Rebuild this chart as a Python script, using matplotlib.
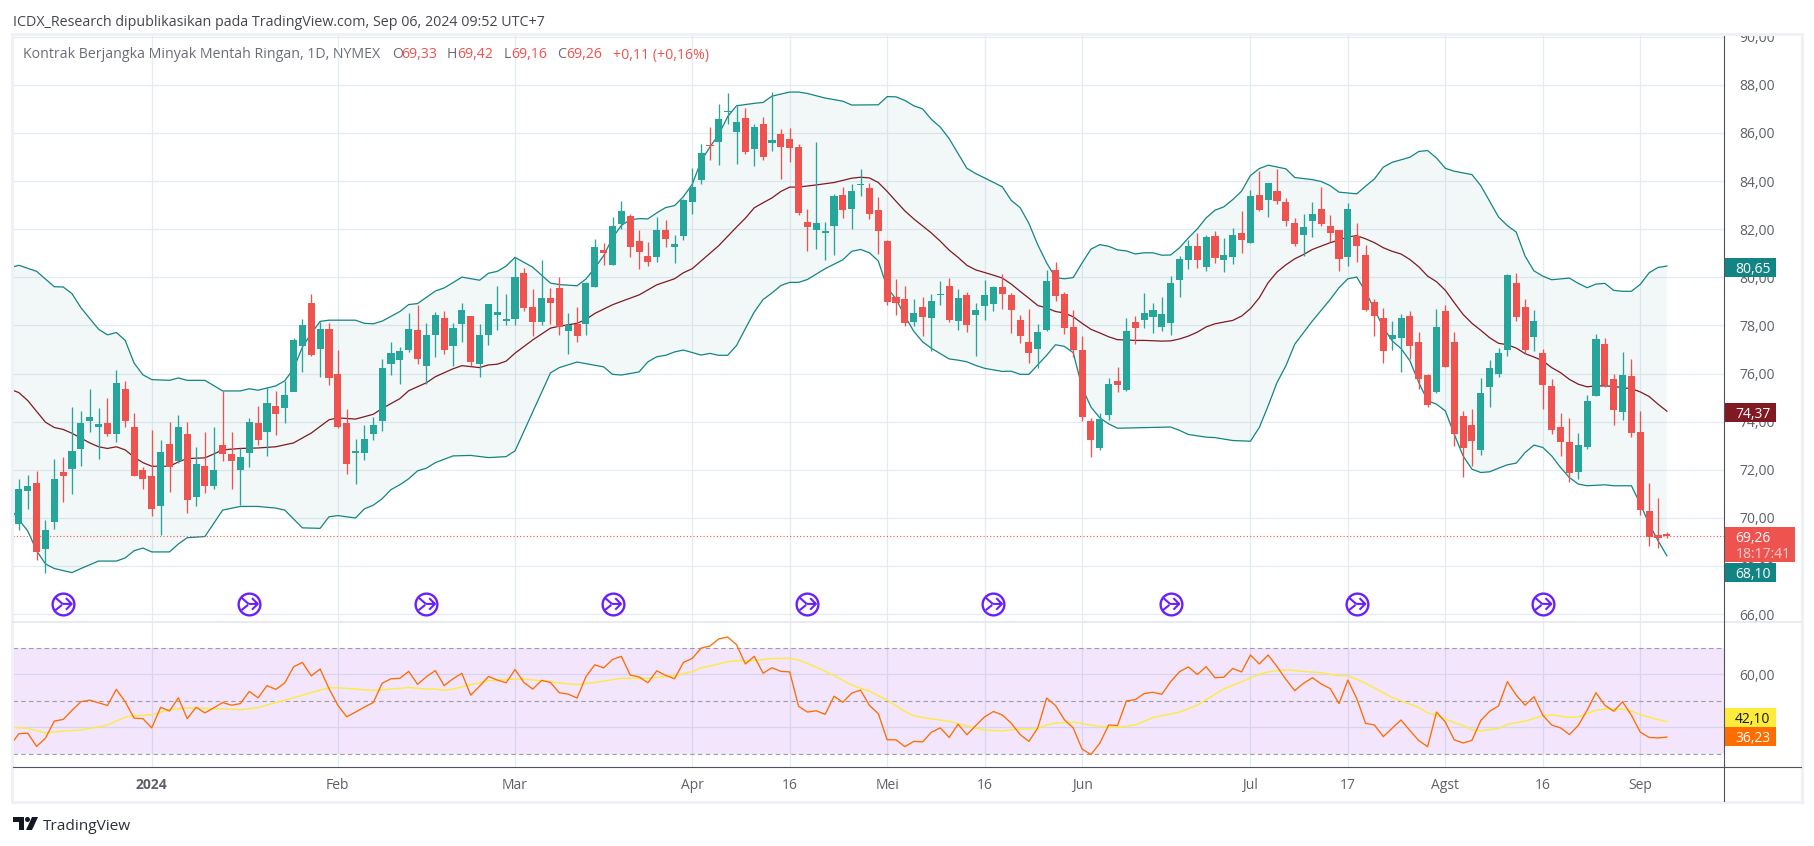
import numpy as np
import matplotlib
matplotlib.use("Agg")
import matplotlib.pyplot as plt
from matplotlib.patches import Rectangle, Circle, Polygon
from matplotlib.path import Path
from matplotlib.ticker import FuncFormatter

plt.rcParams["font.family"] = ["Open Sans", "DejaVu Sans"]

# Daily candles, one row per bar: open, high, low, close
opens = [69.75, 71.11, 71.44, 68.72, 69.84, 71.90, 72.02, 72.88, 74.02, 73.77,
         73.93, 73.51, 75.36, 73.80, 72.00, 71.74, 70.50, 73.07, 72.36, 73.51,
         70.87, 72.18, 71.31, 73.02, 72.64, 71.98, 72.69, 73.93, 73.56, 74.67,
         74.56, 75.25, 77.13, 78.92, 77.02, 77.84, 75.98, 73.93, 72.72, 72.72,
         73.50, 74.05, 76.38, 76.56, 77.00, 77.83, 76.30, 77.60, 78.33, 77.13,
         78.05, 78.40, 76.40, 77.60, 78.45, 78.17, 78.27, 80.17, 78.75, 78.13,
         79.13, 79.57, 77.75, 78.08, 78.05, 79.60, 81.15, 80.53, 82.21, 82.53,
         81.50, 80.87, 80.86, 81.96, 81.27, 81.72, 83.13, 84.04, 85.48, 85.64,
         86.87, 86.06, 86.61, 85.32, 86.36, 85.57, 85.94, 85.73, 85.41, 82.30,
         81.97, 81.84, 82.13, 83.41, 82.83, 83.82, 83.70, 82.79, 81.50, 79.19,
         79.10, 78.16, 78.77, 78.31, 79.26, 79.63, 78.18, 79.26, 78.43, 78.81,
         78.89, 79.60, 79.26, 78.22, 77.32, 77.02, 77.82, 80.30, 79.30, 77.94,
         76.98, 74.03, 72.89, 74.28, 75.69, 75.32, 78.15, 78.22, 78.36, 77.94,
         78.10, 79.88, 80.71, 81.29, 80.44, 81.70, 80.70, 80.84, 81.86, 81.42,
         83.44, 83.21, 83.60, 83.14, 82.24, 81.78, 82.36, 82.86, 82.15, 81.95,
         80.83, 81.70, 80.91, 78.96, 78.30, 77.42, 77.47, 78.38, 77.30, 75.93,
         75.24, 78.59, 77.30, 74.23, 73.86, 72.82, 75.45, 76.00, 76.98, 79.75,
         78.75, 77.51, 76.84, 75.47, 73.77, 73.15, 71.92, 72.94, 75.07, 77.22,
         75.76, 74.41, 75.89, 73.57, 70.28, 69.30, 69.33]
highs = [71.64, 71.80, 71.97, 69.92, 72.46, 72.54, 74.62, 74.46, 75.37, 74.59,
         74.98, 76.16, 75.68, 74.38, 72.10, 73.64, 73.23, 74.00, 74.26, 73.97,
         72.94, 73.59, 73.80, 75.29, 73.56, 72.90, 74.16, 74.65, 75.46, 75.26,
         75.70, 77.50, 78.25, 79.29, 78.16, 78.11, 76.97, 74.51, 73.30, 73.85,
         74.20, 76.60, 77.30, 77.10, 78.50, 78.85, 78.10, 78.55, 78.60, 78.10,
         78.95, 78.40, 78.05, 78.90, 79.63, 79.30, 80.85, 80.40, 79.50, 80.72,
         79.57, 80.00, 78.50, 78.75, 79.82, 81.60, 81.43, 82.50, 83.16, 82.65,
         81.96, 81.47, 82.50, 82.37, 81.75, 83.24, 84.53, 85.53, 86.24, 87.21,
         87.64, 87.13, 87.02, 86.39, 86.65, 87.69, 86.16, 86.19, 85.53, 82.86,
         85.64, 82.31, 83.45, 83.75, 83.87, 84.49, 83.94, 83.33, 81.57, 79.93,
         79.63, 79.10, 79.19, 79.30, 79.84, 79.96, 79.51, 79.38, 78.93, 79.88,
         79.66, 80.13, 79.33, 78.43, 78.68, 78.06, 80.30, 80.64, 79.41, 78.64,
         77.56, 74.16, 74.36, 75.82, 76.28, 78.31, 78.39, 79.35, 78.93, 79.19,
         80.04, 80.87, 81.54, 81.84, 81.75, 81.91, 81.64, 82.06, 82.74, 83.65,
         84.41, 83.92, 84.52, 83.30, 82.47, 82.65, 83.14, 83.76, 82.60, 81.95,
         83.10, 82.27, 81.35, 79.11, 78.74, 78.20, 78.49, 78.61, 77.71, 75.97,
         78.67, 78.86, 77.71, 74.45, 74.52, 75.83, 76.55, 77.08, 80.15, 80.16,
         79.11, 78.63, 77.01, 75.76, 74.38, 74.17, 73.52, 75.10, 77.63, 77.49,
         75.97, 76.91, 76.59, 74.44, 71.47, 70.83, 69.42]
lows = [69.52, 70.38, 68.27, 67.72, 69.56, 70.66, 70.99, 72.15, 73.59, 72.44,
        73.39, 73.15, 73.78, 71.75, 71.20, 70.10, 69.29, 71.08, 72.30, 70.20,
        70.50, 71.05, 71.21, 72.36, 71.21, 70.52, 72.10, 73.02, 72.56, 73.44,
        73.93, 75.26, 76.07, 76.72, 75.85, 75.54, 73.72, 71.84, 71.40, 72.40,
        73.25, 73.60, 75.95, 75.57, 76.90, 76.40, 75.57, 76.70, 76.80, 76.30,
        77.30, 76.30, 75.85, 77.20, 77.80, 78.00, 78.03, 78.60, 77.56, 78.03,
        78.05, 77.62, 76.80, 77.33, 77.60, 79.60, 80.50, 80.53, 82.00, 80.83,
        80.36, 80.46, 80.64, 81.27, 80.61, 81.57, 82.64, 83.87, 84.86, 84.67,
        86.36, 84.71, 85.11, 84.61, 84.87, 85.27, 84.09, 84.79, 82.58, 81.08,
        81.17, 80.73, 80.92, 82.47, 82.01, 83.38, 82.43, 80.98, 78.86, 78.43,
        77.97, 77.97, 77.57, 76.93, 78.83, 78.16, 77.82, 77.73, 76.73, 78.24,
        78.59, 78.68, 77.69, 77.27, 76.44, 76.22, 77.75, 79.01, 77.66, 76.71,
        74.01, 72.52, 72.83, 74.09, 75.24, 75.26, 77.24, 77.90, 77.69, 77.76,
        77.60, 79.19, 80.36, 80.39, 80.27, 80.61, 80.22, 80.55, 81.00, 81.42,
        82.76, 82.50, 83.04, 82.13, 81.30, 80.88, 81.67, 82.13, 81.46, 80.26,
        80.47, 80.62, 78.60, 77.56, 76.46, 77.00, 76.07, 76.60, 75.35, 74.63,
        75.21, 76.26, 73.00, 71.71, 72.17, 72.63, 74.62, 75.85, 76.73, 78.19,
        76.87, 76.94, 74.52, 73.48, 72.58, 71.50, 71.62, 72.86, 75.07, 75.45,
        73.87, 74.08, 73.37, 70.14, 68.85, 68.75, 69.16]
closes = [71.21, 71.31, 68.58, 69.51, 71.61, 71.74, 72.80, 73.93, 74.21, 73.89,
          73.51, 75.60, 74.05, 71.75, 71.60, 70.38, 72.74, 72.13, 73.80, 70.75,
          72.23, 71.31, 72.00, 72.64, 72.36, 72.54, 73.97, 73.23, 74.76, 74.34,
          75.11, 77.38, 78.00, 76.77, 77.84, 75.80, 73.80, 72.25, 72.80, 73.30,
          73.87, 76.23, 76.85, 76.95, 77.87, 76.60, 77.60, 78.45, 77.00, 77.90,
          78.65, 76.50, 77.60, 78.90, 78.55, 78.27, 80.00, 78.72, 78.13, 79.13,
          78.93, 77.95, 78.00, 77.55, 79.77, 81.26, 81.00, 82.13, 82.74, 81.26,
          81.05, 80.64, 81.96, 81.60, 81.38, 83.20, 83.75, 85.16, 85.44, 86.59,
          86.93, 86.44, 85.20, 86.24, 85.00, 85.69, 85.42, 85.36, 82.67, 82.09,
          82.25, 81.91, 83.36, 82.79, 83.57, 83.87, 82.64, 81.91, 78.98, 78.95,
          78.10, 78.52, 78.36, 79.00, 79.30, 78.22, 79.14, 78.01, 78.64, 79.26,
          79.60, 79.30, 78.64, 77.56, 76.86, 77.73, 79.84, 79.21, 77.90, 76.98,
          74.21, 73.24, 74.13, 75.57, 75.53, 77.76, 77.90, 78.52, 78.64, 78.47,
          79.76, 80.76, 81.29, 80.71, 81.67, 80.80, 80.91, 81.74, 81.55, 83.40,
          82.78, 83.90, 83.16, 82.33, 81.38, 82.11, 82.65, 82.21, 81.86, 80.76,
          82.86, 81.30, 78.63, 78.38, 76.93, 77.59, 78.30, 77.13, 75.76, 74.69,
          77.92, 76.26, 73.48, 72.90, 73.19, 75.21, 76.22, 76.84, 80.08, 78.34,
          76.97, 78.17, 75.53, 73.65, 73.16, 71.89, 73.03, 74.85, 77.42, 75.53,
          74.48, 75.93, 73.54, 70.34, 69.20, 69.16, 69.26]

# Bollinger bands, read at the bars where the line visibly bends
upper_idx = [-1, 0, 2, 4, 5, 6, 7, 9, 10, 11, 12, 13, 14, 15, 17, 18, 19, 21, 23, 25, 26, 27, 29, 30, 31,
             32, 33, 34, 35, 38, 39, 40, 41, 43, 44, 45, 47, 48, 49, 50, 52, 53, 54, 55, 56, 58, 60, 61, 63,
             64, 65, 66, 67, 68, 69, 70, 71, 72, 73, 74, 75, 76, 77, 78, 79, 80, 81, 83, 84, 85, 87, 88, 89,
             91, 93, 94, 97, 98, 99, 100, 101, 102, 103, 104, 105, 107, 108, 109, 111, 112, 113, 114, 115,
             116, 117, 118, 119, 120, 121, 122, 123, 124, 125, 126, 127, 128, 129, 130, 131, 132, 133, 134,
             135, 136, 137, 138, 139, 140, 141, 143, 144, 146, 147, 148, 149, 151, 152, 153, 154, 155, 157,
             158, 159, 160, 161, 162, 164, 165, 166, 167, 168, 169, 170, 171, 172, 173, 175, 176, 177, 178,
             179, 180, 181, 182, 183, 184, 185, 186]
upper_val = [80.40, 80.50, 80.25, 79.61, 79.60, 79.32, 78.74, 77.84, 77.61, 77.71, 77.38, 76.44, 75.95, 75.75,
             75.72, 75.82, 75.72, 75.72, 75.28, 75.28, 75.37, 75.31, 75.49, 75.70, 76.20, 77.10, 77.67, 78.17,
             78.22, 78.22, 78.09, 78.07, 78.18, 78.58, 78.87, 78.91, 79.43, 79.56, 79.78, 80.01, 79.88, 80.17,
             80.25, 80.47, 80.83, 80.42, 79.76, 79.70, 79.65, 79.93, 80.39, 80.90, 81.64, 82.16, 82.39, 82.44,
             82.43, 82.68, 82.90, 82.98, 83.35, 83.87, 84.83, 85.42, 85.94, 86.68, 87.13, 87.23, 87.27, 87.53,
             87.70, 87.70, 87.64, 87.45, 87.32, 87.16, 87.17, 87.51, 87.50, 87.35, 87.13, 87.00, 86.56, 86.24,
             85.76, 84.53, 84.31, 84.13, 83.76, 83.20, 82.90, 82.24, 81.35, 80.60, 79.99, 79.94, 79.99, 80.60,
             81.17, 81.36, 81.29, 81.14, 81.10, 80.97, 81.02, 81.02, 80.92, 80.93, 81.23, 81.64, 82.01, 82.47,
             82.79, 82.93, 83.23, 83.58, 84.23, 84.52, 84.66, 84.51, 84.15, 84.06, 83.98, 83.81, 83.54, 83.47,
             83.79, 84.09, 84.58, 84.78, 84.99, 85.23, 85.27, 84.96, 84.53, 84.41, 84.27, 83.81, 83.16, 82.51,
             82.15, 81.88, 80.88, 80.27, 80.05, 79.90, 79.97, 79.75, 79.57, 79.72, 79.75, 79.46, 79.42, 79.42,
             79.71, 80.19, 80.41, 80.47]
basis_idx = [-1, 0, 1, 3, 4, 5, 6, 7, 8, 9, 10, 11, 12, 13, 14, 15, 17, 18, 19, 21, 22, 23, 25, 27, 29, 31, 33,
             35, 36, 38, 40, 41, 43, 44, 46, 47, 49, 50, 52, 53, 54, 55, 56, 58, 60, 61, 63, 64, 65, 67, 68,
             70, 72, 74, 75, 76, 77, 79, 81, 82, 83, 84, 85, 86, 87, 88, 90, 92, 94, 95, 96, 97, 98, 99, 100,
             101, 103, 104, 105, 106, 107, 108, 110, 111, 112, 113, 114, 115, 116, 117, 118, 119, 120, 121,
             122, 123, 124, 126, 127, 129, 130, 131, 132, 133, 134, 135, 137, 138, 139, 140, 141, 142, 143,
             144, 145, 146, 147, 148, 149, 150, 151, 152, 153, 154, 155, 156, 157, 158, 159, 160, 161, 162,
             163, 164, 165, 166, 167, 168, 169, 170, 171, 172, 173, 174, 175, 176, 177, 178, 179, 180, 181,
             182, 183, 184, 185, 186]
basis_val = [75.35, 75.21, 74.88, 73.98, 73.76, 73.68, 73.52, 73.32, 73.12, 72.96, 72.89, 72.96, 72.83, 72.53,
             72.30, 72.15, 72.15, 72.33, 72.47, 72.50, 72.66, 72.83, 72.89, 72.91, 72.96, 73.12, 73.53, 74.08,
             74.16, 74.11, 74.31, 74.55, 74.96, 75.29, 75.62, 75.87, 76.20, 76.33, 76.25, 76.36, 76.39, 76.52,
             76.85, 77.40, 77.89, 77.97, 78.09, 78.25, 78.50, 78.86, 79.00, 79.27, 79.69, 79.94, 80.19, 80.36,
             80.68, 81.32, 82.09, 82.46, 82.89, 83.10, 83.30, 83.57, 83.75, 83.75, 83.84, 83.94, 84.12, 84.16,
             84.13, 83.94, 83.57, 83.16, 82.76, 82.43, 81.84, 81.50, 81.13, 80.83, 80.50, 80.31, 80.09, 79.97,
             79.72, 79.42, 79.13, 78.83, 78.73, 78.58, 78.52, 78.36, 78.09, 77.84, 77.69, 77.53, 77.41, 77.38,
             77.38, 77.35, 77.36, 77.44, 77.56, 77.72, 77.94, 78.07, 78.21, 78.39, 78.70, 79.15, 79.78, 80.22,
             80.52, 80.77, 80.95, 81.16, 81.30, 81.44, 81.55, 81.68, 81.73, 81.60, 81.44, 81.23, 81.08, 80.97,
             80.74, 80.44, 80.05, 79.82, 79.46, 78.95, 78.46, 78.09, 77.80, 77.49, 77.26, 77.20, 77.06, 76.83,
             76.69, 76.53, 76.25, 76.04, 75.76, 75.56, 75.45, 75.49, 75.49, 75.47, 75.41, 75.38, 75.24, 75.05,
             74.73, 74.44]
lower_idx = [-1, 1, 2, 3, 4, 6, 7, 9, 11, 12, 13, 14, 15, 17, 18, 19, 21, 23, 25, 27, 29, 30, 32, 34, 35, 36,
             38, 39, 40, 41, 42, 43, 44, 45, 46, 47, 49, 51, 53, 55, 56, 60, 61, 63, 66, 67, 68, 70, 71, 72,
             73, 74, 75, 77, 78, 79, 80, 81, 82, 83, 84, 85, 86, 87, 88, 89, 91, 93, 94, 95, 96, 97, 98, 99,
             100, 101, 102, 103, 105, 106, 107, 108, 109, 111, 112, 113, 114, 116, 117, 118, 119, 120, 121,
             122, 123, 124, 130, 131, 132, 134, 135, 137, 139, 140, 141, 142, 143, 144, 146, 148, 149, 150,
             151, 152, 153, 154, 155, 156, 157, 158, 159, 160, 161, 162, 163, 164, 165, 166, 167, 168, 169,
             170, 171, 172, 173, 174, 175, 176, 177, 179, 180, 182, 183, 184, 185, 186]
lower_val = [70.40, 69.46, 68.64, 68.09, 67.90, 67.73, 67.90, 68.21, 68.21, 68.34, 68.64, 68.75, 68.59, 68.59,
             68.92, 69.18, 69.23, 70.33, 70.48, 70.48, 70.41, 70.33, 69.59, 69.57, 70.05, 70.10, 70.00, 70.38,
             70.53, 70.80, 71.18, 71.38, 71.63, 71.96, 72.07, 72.30, 72.58, 72.60, 72.51, 72.55, 72.79, 76.03,
             76.25, 76.48, 76.28, 75.97, 75.94, 76.07, 76.49, 76.70, 76.76, 76.90, 76.98, 76.77, 76.84, 76.76,
             76.76, 77.17, 77.87, 78.56, 79.08, 79.35, 79.66, 79.79, 79.79, 79.91, 80.36, 80.73, 81.08, 81.16,
             81.02, 80.68, 79.57, 79.10, 78.39, 77.76, 77.32, 77.05, 76.61, 76.56, 76.49, 76.34, 76.22, 76.09,
             76.10, 75.97, 75.97, 76.76, 77.20, 77.13, 76.87, 75.42, 74.61, 74.16, 73.91, 73.73, 73.78, 73.64,
             73.47, 73.36, 73.34, 73.22, 73.19, 73.76, 74.66, 75.63, 76.32, 77.22, 78.19, 79.08, 79.57, 79.94,
             80.01, 79.40, 78.67, 77.91, 77.36, 77.04, 76.53, 75.63, 74.87, 74.73, 74.45, 73.48, 72.58, 72.03,
             71.89, 71.92, 72.07, 72.21, 72.28, 72.72, 73.03, 72.93, 72.58, 72.10, 71.68, 71.41, 71.34, 71.38,
             71.34, 71.34, 70.58, 69.75, 69.06, 68.43]

# RSI for every bar, first value is the bar just left of the frame
rsi = [33.0, 37.5, 37.7, 32.7, 35.8, 42.3, 42.9, 46.4, 49.6, 50.2, 49.2, 48.2, 54.3, 49.6, 43.4, 43.2, 39.7,
       47.5, 46.1, 51.1, 43.2, 47.5, 45.4, 47.3, 49.3, 48.3, 48.9, 53.5, 51.1, 55.7, 54.3, 56.7, 62.8, 64.5,
       59.4, 62.0, 54.6, 48.3, 43.9, 45.7, 47.6, 49.3, 56.6, 58.3, 58.5, 61.1, 56.2, 59.1, 61.4, 55.7, 58.3,
       60.4, 52.1, 55.5, 59.2, 57.8, 56.8, 61.8, 56.9, 54.4, 57.7, 56.9, 53.0, 52.5, 51.0, 59.1, 63.6, 62.4,
       65.6, 66.8, 59.7, 59.0, 56.8, 61.3, 59.6, 58.3, 64.5, 66.0, 69.9, 70.7, 73.4, 74.1, 71.2, 63.9, 66.8,
       60.4, 62.5, 61.1, 60.9, 47.9, 45.7, 46.2, 44.8, 51.7, 49.4, 52.9, 54.0, 48.2, 45.1, 35.2, 35.2, 32.6,
       34.6, 34.4, 38.1, 39.7, 36.1, 41.1, 37.1, 40.6, 43.9, 45.9, 44.6, 41.5, 37.2, 34.6, 39.7, 51.0, 48.2,
       42.8, 39.7, 31.7, 29.6, 33.9, 40.8, 40.6, 49.9, 50.4, 52.7, 53.2, 52.4, 57.2, 61.0, 62.8, 59.9, 62.9,
       58.7, 58.9, 62.2, 60.9, 67.3, 63.9, 67.3, 62.9, 58.1, 53.8, 56.6, 58.7, 56.3, 54.6, 48.9, 57.8, 50.8,
       41.4, 40.8, 36.4, 39.6, 42.7, 38.7, 34.9, 32.6, 45.7, 41.9, 35.2, 34.0, 35.0, 42.5, 46.0, 48.0, 57.2,
       52.1, 48.3, 51.5, 44.5, 40.8, 39.7, 37.2, 40.6, 46.4, 53.0, 48.3, 46.0, 49.6, 44.5, 38.1, 36.1, 35.9,
       36.23]
rsi_ma_idx = [-1, 1, 3, 5, 7, 9, 10, 12, 13, 15, 17, 19, 21, 23, 25, 27, 29, 31, 33, 35, 36, 38, 40, 42, 44, 46,
              47, 48, 49, 51, 53, 55, 57, 59, 61, 63, 65, 68, 71, 74, 76, 77, 79, 80, 81, 83, 85, 87, 88, 90,
              92, 94, 96, 98, 100, 101, 102, 105, 107, 109, 111, 112, 115, 116, 117, 119, 121, 122, 124, 126,
              128, 129, 131, 133, 134, 136, 138, 140, 141, 143, 145, 147, 149, 150, 151, 152, 155, 158, 159,
              160, 162, 163, 164, 165, 167, 168, 170, 172, 173, 175, 176, 178, 179, 181, 182, 183, 184, 185, 186]
rsi_ma_val = [40.1, 39.5, 37.8, 38.5, 38.9, 40.1, 40.8, 43.8, 44.3, 44.7, 46.6, 47.3, 47.1, 46.9, 46.6, 47.4,
              49.3, 51.1, 53.1, 54.9, 54.9, 54.4, 53.9, 54.4, 55.0, 54.4, 54.4, 54.0, 54.4, 56.1, 57.6, 58.1,
              58.1, 57.6, 56.7, 56.1, 56.9, 58.5, 58.5, 59.5, 61.0, 62.4, 63.9, 64.8, 65.1, 65.2, 66.0, 66.0,
              65.4, 62.7, 59.5, 55.9, 53.6, 50.2, 45.9, 44.3, 43.6, 42.2, 40.4, 38.9, 38.6, 39.0, 39.5, 40.9,
              41.5, 41.9, 40.8, 40.3, 39.9, 40.8, 43.6, 44.3, 45.7, 48.3, 50.4, 54.5, 57.2, 60.0, 60.9, 61.7,
              61.1, 60.6, 59.4, 59.4, 58.1, 56.6, 51.2, 47.4, 45.4, 44.5, 41.7, 40.6, 39.0, 38.6, 39.5, 41.0,
              42.3, 44.3, 44.6, 43.7, 43.9, 46.4, 46.8, 46.8, 46.1, 44.7, 43.8, 42.8, 42.1]

# Time axis and the event icons
tick_idx = [15, 36, 56, 76, 87, 98, 109, 120, 139, 150, 161, 172, 183]
tick_names = ["2024", "Feb", "Mar", "Apr", "16", "Mei", "16", "Jun", "Jul", "17", "Agst", "16", "Sep"]
event_idx = [5, 26, 46, 67, 89, 110, 130, 151, 172]
last_price = 69.26

UP, DOWN = "#26a69a", "#ef5350"
BAND, BASIS = "#138484", "#801922"
GRID = "#e3ebf3"
W, H = 1814, 846
LEFT, RIGHT = 12.5, 1724
PANE, AXIS_Y = 622, 767
TICK_FS = 10.0


def px_axes(x0, x1, y0, y1):
    return fig.add_axes([x0 / W, 1 - y1 / H, (x1 - x0) / W, (y1 - y0) / H])


fig = plt.figure(figsize=(W / 100, H / 100), dpi=100, facecolor="white")
ax = px_axes(LEFT, RIGHT, 35, 621)
ax2 = px_axes(LEFT, RIGHT, PANE, AXIS_Y)

xlim = (-0.72, 192.45)
for a in (ax, ax2):
    a.set_xlim(*xlim)
    a.set_xticks(tick_idx)
    a.grid(True, color=GRID, lw=0.9)
    a.set_axisbelow(True)
    a.yaxis.tick_right()
    a.tick_params(length=0, labelsize=TICK_FS, labelcolor="#5d606b", pad=11)
    for s in a.spines.values():
        s.set_visible(False)

# price pane
ax.set_ylim(65.72, 90.07)
ax.set_yticks(np.arange(66, 91, 2))
ax.yaxis.set_major_formatter(FuncFormatter(lambda v, p: f"{v:.2f}".replace(".", ",")))
ax.tick_params(axis="x", labelbottom=False)

ax.fill(list(upper_idx) + list(lower_idx[::-1]), list(upper_val) + list(lower_val[::-1]),
        color=BAND, alpha=0.05, lw=0, zorder=1)
ax.plot(upper_idx, upper_val, color=BAND, lw=0.9, zorder=2)
ax.plot(lower_idx, lower_val, color=BAND, lw=0.9, zorder=2)
ax.plot(basis_idx, basis_val, color=BASIS, lw=0.9, zorder=2)

idx = np.arange(len(opens))
o, h, l, c = map(np.array, (opens, highs, lows, closes))
colors = np.where(c >= o, UP, DOWN)
ax.vlines(idx, l, h, colors=colors, lw=0.95, zorder=3)
ax.bar(idx, np.abs(c - o), bottom=np.minimum(o, c), width=0.8, color=colors, lw=0, zorder=3)
ax.axhline(last_price, color=DOWN, lw=0.8, ls=(0, (1, 2)), zorder=2)

# event icons
arrow = Path([(-0.62, 0.5), (-0.05, 0.0), (-0.62, -0.5), (-0.1, -0.08), (-0.05, 0.0), (0.68, 0.0),
              (0.22, 0.46), (0.68, 0.0), (0.22, -0.46)],
             [Path.MOVETO, Path.LINETO, Path.MOVETO, Path.LINETO, Path.MOVETO, Path.LINETO,
              Path.MOVETO, Path.LINETO, Path.LINETO])
event_y = np.full(len(event_idx), 66.43)
ax.scatter(event_idx, event_y, s=245, facecolor="white", edgecolor="#6a1fff", lw=1.7, zorder=4)
ax.scatter(event_idx, event_y, s=150, marker=arrow, facecolor="none", edgecolor="#6a1fff", lw=1.5, zorder=5)

# RSI pane
ax2.set_ylim(24.9, 79.8)
ax2.set_yticks([40, 60])
ax2.set_yticklabels(["", "60,00"])
ax2.set_xticklabels(tick_names)
ax2.tick_params(axis="x", labelsize=TICK_FS, pad=8, labelcolor="#5d606b")
for lab, name in zip(ax2.get_xticklabels(), tick_names):
    if name == "2024":
        lab.set_fontweight("bold")
ax2.axhspan(30, 70, color="#8705eb", alpha=0.1, lw=0, zorder=1)
for lvl in (70, 50, 30):
    ax2.axhline(lvl, color="#9a9ca6", lw=0.8, ls=(0, (4, 3)), zorder=2)
ax2.plot(rsi_ma_idx, rsi_ma_val, color="#ffeb3b", lw=1.0, zorder=3)
ax2.plot(np.arange(-1, len(rsi) - 1), rsi, color="#ff6d00", lw=0.95, zorder=4)

# frame, labels and header sit on a pixel overlay
ov = fig.add_axes([0, 0, 1, 1], zorder=10)
ov.set_xlim(0, W)
ov.set_ylim(H, 0)
ov.axis("off")
ov.add_patch(Rectangle((0, 0), W, 33, color="white", lw=0))
ov.add_patch(Rectangle((12, 34.5), 1790, 767.5, fill=False, edgecolor="#eff1f6", lw=2.2))
ov.plot([LEFT, 1801], [PANE, PANE], color="#e4e7ee", lw=1.2)
ov.plot([LEFT, 1801], [AXIS_Y, AXIS_Y], color="#50535e", lw=0.8)
ov.plot([RIGHT, RIGHT], [36, 801], color="#50535e", lw=0.8)


def badge(y0, y1, text, bg, fg="white", x1=1775.5):
    ov.add_patch(Rectangle((RIGHT + 0.5, y0), x1 - RIGHT, y1 - y0, color=bg, lw=0))
    ov.text(1770.5, (y0 + y1) / 2, text, color=fg, fontsize=TICK_FS, ha="right", va="center_baseline")


badge(258, 277, "80,65", BAND)
badge(403, 422, "74,37", BASIS)
badge(563, 582, "68,10", BAND)
badge(708, 727, "42,10", "#ffeb3b", "#131722")
badge(727, 746, "36,23", "#ff6d00")
ov.add_patch(Rectangle((RIGHT + 0.5, 527), 70.5, 35, color=DOWN, lw=0))
ov.text(1735.5, 536, "69,26", color="white", fontsize=TICK_FS, va="center_baseline")
ov.text(1735.5, 552, "18:17:41", color="#fbd0cf", fontsize=TICK_FS, va="center_baseline")

ov.text(13, 20, "ICDX_Research dipublikasikan pada TradingView.com, Sep 06, 2024 09:52 UTC+7",
        color="#444750", fontsize=10.25, va="center_baseline")

legend_y = 53
for x, text, col in [(23, "Kontrak Berjangka Minyak Mentah Ringan, 1D, NYMEX", "#6a6d78"),
                     (392, "O", "#6a6d78"), (401, "69,33", DOWN),
                     (447, "H", "#6a6d78"), (457, "69,42", DOWN),
                     (504, "L", "#6a6d78"), (511, "69,16", DOWN),
                     (557, "C", "#6a6d78"), (566, "69,26", DOWN),
                     (613, "+0,11 (+0,16%)", DOWN)]:
    ov.text(x, legend_y, text, color=col, fontsize=10.2, va="center_baseline")

# TradingView logo
ov.add_patch(Polygon([(13, 817), (24, 817), (24, 830), (19, 830), (19, 822), (13, 822)], color="#131722", lw=0))
ov.add_patch(Circle((27.5, 819.5), 2.5, color="#131722", lw=0))
ov.add_patch(Polygon([(32, 817), (38, 817), (32, 830), (26, 830)], color="#131722", lw=0))
ov.text(43, 824, "TradingView", color="#2a2e39", fontsize=11.1, va="center_baseline")

fig.savefig("out.png", dpi=100, facecolor="white")
